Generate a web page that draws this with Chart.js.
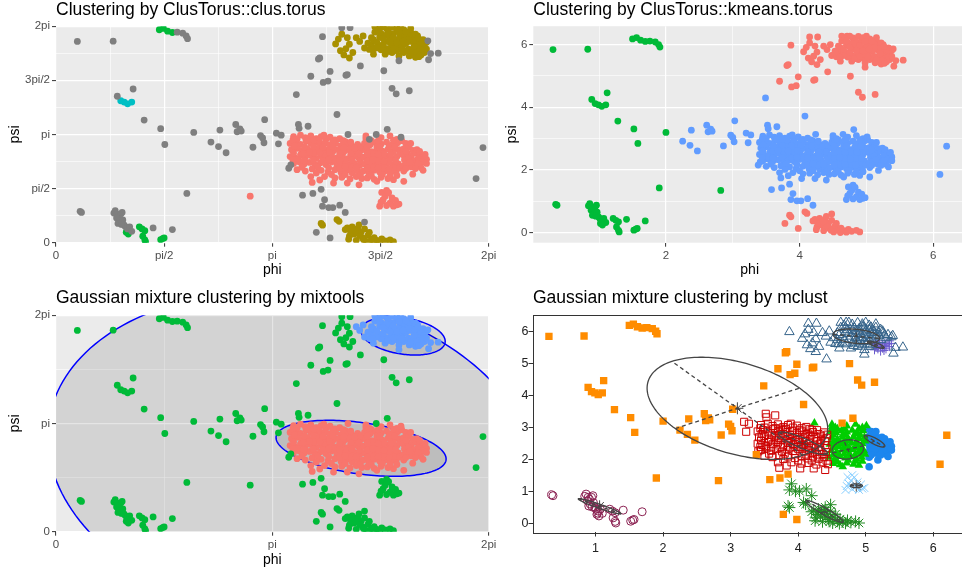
<!DOCTYPE html>
<html>
<head>
<meta charset="utf-8">
<script src="https://cdn.jsdelivr.net/npm/chart.js@4.4.1/dist/chart.umd.min.js"></script>
<style>
  html, body { margin: 0; padding: 0; overflow: hidden; background: #fff; }
  body { width: 962px; height: 570px; position: relative; }
  canvas { position: absolute; }
</style>
</head>
<body>
<canvas id="kmeans" width="480" height="285" style="left:490px;top:0;z-index:1"></canvas>
<canvas id="mclust" width="480" height="285" style="left:490px;top:285px;z-index:1"></canvas>
<canvas id="clus" width="505" height="285" style="left:0;top:0;z-index:2"></canvas>
<canvas id="mix" width="505" height="285" style="left:0;top:285px;z-index:2"></canvas>
<script>
// ---- data: (phi, psi) pairs, grouped by how the four methods label them ----
const farLeft = [[0.31,5.84],[0.83,5.85],[0.89,4.25],[1.12,4.46],[1.28,3.56],[1.52,3.31],[1.58,2.85],[2.00,3.20],[1.90,1.43]];
const cyanPts = [[0.94,4.12],[0.99,4.08],[1.04,4.03],[1.10,4.08]];
const topLeftG = [[1.50,6.18],[1.56,6.22],[1.62,6.14],[1.69,6.10]];
const topLeftK = [[1.76,6.11],[1.84,6.08],[1.89,6.00],[1.91,5.92]];
const lowLeftK = [[0.35,0.91],[0.37,0.88],[0.84,0.86],[0.86,0.93],[0.89,0.83],[0.91,0.77],[0.94,0.83],[0.96,0.88],
  [0.88,0.72],[0.92,0.62],[0.90,0.56],[0.97,0.66],[0.99,0.51],[1.01,0.46],[0.95,0.53],[1.04,0.40],[1.07,0.46],
  [1.10,0.33],[1.41,0.43],[1.69,0.38]];
const lowLeftG = [[1.02,0.30],[1.03,0.34],[1.05,0.25],[1.21,0.46],[1.25,0.40],[1.29,0.35],[1.26,0.19],[1.29,0.08],
  [1.30,0.03],[1.52,0.085],[1.55,0.12],[1.57,0.14]];
const loneA = [[2.82,1.35]];
const midK = [[2.25,2.92],[2.36,2.79],[2.38,3.27],[2.47,2.61],[2.61,3.43],[2.63,3.22],[2.67,3.30],[2.69,3.24],
  [2.86,2.77],[2.97,3.11],[3.00,3.04],[3.03,3.57],[3.02,2.90],[3.49,4.30],[4.08,3.72],[4.65,3.14],[4.81,3.29],
  [6.10,1.86],[6.20,2.76],[3.38,2.16],[3.58,1.38],[3.73,1.43],[3.85,1.55]];
const midR = [[3.20,3.18],[3.23,2.87],[3.27,3.12],[3.52,3.43],[3.53,3.32],[3.66,3.38],[3.41,2.26]];
const mainW = [
  [3.45,3.08],[3.55,3.12],[3.62,3.05],[3.70,3.10],[3.78,3.02],[3.85,3.08],[3.92,3.00],[3.98,3.06],[4.05,2.98],[4.12,3.02],[4.20,2.93],
  [3.40,2.88],[3.48,2.92],[3.55,2.85],[3.63,2.95],[3.70,2.88],[3.77,2.92],[3.84,2.86],[3.91,2.90],[3.98,2.84],[4.06,2.88],[4.14,2.82],[4.22,2.86],[4.30,2.80],[4.38,2.85],
  [3.42,2.70],[3.50,2.74],[3.57,2.66],[3.65,2.72],[3.72,2.68],[3.80,2.74],[3.87,2.66],[3.95,2.71],[4.02,2.65],[4.10,2.70],[4.18,2.64],[4.26,2.69],[4.34,2.62],[4.42,2.67],
  [3.40,2.50],[3.47,2.46],[3.55,2.55],[3.62,2.48],[3.70,2.53],[3.78,2.45],[3.85,2.52],[3.93,2.47],[4.00,2.54],[4.08,2.46],[4.16,2.51],[4.24,2.44],[4.32,2.50],[4.40,2.45],
  [3.45,2.30],[3.53,2.35],[3.60,2.28],[3.68,2.33],[3.76,2.26],[3.84,2.32],[3.92,2.27],[4.00,2.34],[4.08,2.26],[4.16,2.31],[4.25,2.25],[4.33,2.30],[4.41,2.24],
  [3.50,2.12],[3.62,2.08],[3.72,2.14],[3.85,2.10],[3.95,2.05],[4.05,2.12],[4.14,2.04],[4.22,2.10],[4.30,2.03],[4.38,2.08],
  [3.70,1.92],[3.90,1.92],[4.05,1.88],[4.15,1.90],[4.27,1.85],[4.36,1.92],[4.44,1.86],
  [3.72,1.75],[3.83,1.82],[4.03,1.73],[4.23,1.73],[4.40,1.68],
  [3.50,3.00],[3.66,2.98],[3.82,2.96],[3.60,2.60],[3.75,2.60],[3.90,2.58],[3.52,2.42],[3.88,2.38],[4.04,2.40],[4.20,2.37],[4.12,2.16],[4.28,2.16],
  [3.44,2.98],[3.74,2.97],[3.89,3.12],[4.02,2.93],[4.17,2.96],[4.28,2.92],
  [3.46,2.80],[3.61,2.78],[3.74,2.79],[3.88,2.77],[4.02,2.78],[4.18,2.76],[4.34,2.75],[4.43,2.78],
  [3.45,2.60],[3.68,2.62],[3.83,2.60],[3.97,2.62],[4.12,2.58],[4.28,2.57],[4.40,2.58],
  [3.44,2.40],[3.60,2.38],[3.74,2.40],[3.96,2.40],[4.12,2.38],[4.30,2.40],[4.42,2.36],
  [3.57,2.19],[3.80,2.19],[3.96,2.17],[4.20,2.20],[4.36,2.18],
  [3.78,2.02],[4.00,1.98],[4.20,1.98],[4.42,1.97]];
const mainM = [
  [4.50,3.02],[4.58,2.96],[4.72,3.05],[4.85,3.10],[4.95,3.00],
  [4.48,2.88],[4.56,2.84],[4.64,2.90],[4.72,2.86],[4.80,2.92],[4.88,2.84],[4.96,2.90],
  [4.50,2.68],[4.58,2.64],[4.66,2.70],[4.74,2.66],[4.82,2.71],[4.90,2.65],[4.98,2.70],
  [4.47,2.48],[4.55,2.44],[4.63,2.50],[4.71,2.46],[4.79,2.52],[4.87,2.45],[4.95,2.50],
  [4.49,2.28],[4.57,2.24],[4.65,2.30],[4.73,2.26],[4.81,2.31],[4.89,2.25],[4.97,2.29],
  [4.46,2.08],[4.54,2.04],[4.62,2.10],[4.70,2.05],[4.78,2.09],[4.86,2.03],[4.94,2.08],
  [4.52,1.88],[4.62,1.84],[4.72,1.90],[4.82,1.86],[4.90,1.83],
  [4.60,2.58],[4.76,2.58],[4.68,2.38],[4.84,2.38],[4.60,2.17],[4.76,2.17],[4.92,2.18],[4.55,1.98],[4.85,1.95],[4.66,2.78],[4.84,2.80],
  [4.53,2.95],[4.68,2.96],[4.90,2.97],[4.52,2.77],[4.70,2.77],[4.92,2.77],[4.52,2.57],[4.68,2.56],[4.86,2.56],[4.99,2.58],
  [4.52,2.37],[4.60,2.40],[4.76,2.36],[4.93,2.38],[4.52,2.16],[4.68,2.18],[4.84,2.15],[4.99,2.17],[4.58,1.94],[4.74,1.98],
  [4.95,1.95],[4.66,1.78],[4.50,3.10]];
const mainE = [[5.02,2.96],[5.08,2.88],[5.05,2.72],[5.12,2.78],[5.18,2.68],[5.04,2.55],[5.10,2.60],[5.16,2.52],[5.22,2.60],
  [5.28,2.55],[5.34,2.50],[5.38,2.42],[5.06,2.40],[5.12,2.44],[5.20,2.38],[5.26,2.45],[5.32,2.35],[5.38,2.30],[5.04,2.22],
  [5.10,2.28],[5.16,2.20],[5.22,2.26],[5.30,2.18],[5.05,2.08],[5.18,1.99],[5.33,2.10],[5.05,1.78],[5.24,2.70],[5.15,2.88],
  [5.08,2.65],[5.28,2.65],[5.14,2.34],[5.26,2.30],[5.08,2.15],[5.36,2.56],[5.22,2.15]];
const mainTopK = [[4.24,3.14],[4.55,3.00],[5.01,3.06]];
const tail = [[4.70,1.06],[4.73,1.46],[4.75,1.25],[4.78,1.35],[4.80,1.52],[4.83,1.45],[4.85,1.15],[4.88,1.30],[4.90,1.06],
  [4.93,1.23],[4.95,1.10],[4.98,1.12],[4.80,1.08],[4.72,1.18]];
const belowB = [[3.90,1.25],[3.87,1.06],[3.96,1.02],[4.02,1.02],[4.12,1.09],[4.20,0.88]];
const bottomC = [[3.87,0.51],[3.85,0.56],[4.11,0.62],[4.08,0.67],[4.23,0.43],[4.30,0.46],[4.38,0.41],[4.43,0.30],[4.33,0.25],
  [4.26,0.19],[4.45,0.14],[4.53,0.21],[4.58,0.09],[4.66,0.07],[4.73,0.11],[4.36,0.07],[4.51,0.03],[4.61,0.01],[4.70,0.02],
  [4.90,0.03],[4.28,0.30],[4.41,0.21],[4.55,0.30],[4.35,0.35],[4.48,0.40],[4.62,0.15],[4.78,0.05],[4.85,0.08],[4.20,0.38],
  [4.40,0.52],[4.25,0.10],[4.47,0.08]];
const bottomK = [[4.48,0.60]];
const lowK = [[3.78,0.30],[3.98,0.14]];
const topLeftPart = [[4.06,5.77],[4.10,5.91],[4.13,5.57],[4.21,5.63],[4.26,5.76],[4.31,5.52],[4.15,6.05],[4.23,5.95],[4.26,5.36],[4.18,5.45]];
const topMid = [[4.36,5.95],[4.41,5.84],[4.46,6.00],[4.48,5.65],[4.55,5.61],[4.58,5.73],[4.61,5.47],[4.63,6.27],[4.71,6.27],
  [4.80,6.21],[4.88,6.26],[4.95,6.16],[5.05,6.18],[5.15,6.11],[5.25,6.00],[5.33,5.89],[5.38,5.82],[4.63,6.11],[4.70,5.97],
  [4.78,5.84],[4.85,6.00],[4.93,5.89],[5.00,5.79],[5.08,5.95],[5.15,5.84],[5.23,5.73],[4.80,5.63],[4.88,5.52],[4.95,5.57],
  [5.03,5.68],[5.10,5.57],[4.98,5.42],[4.78,5.47],[4.53,5.79],[4.68,5.73],[4.61,5.89],[5.10,6.05],[5.00,6.00],[4.90,6.07],
  [5.05,5.52],[4.83,6.11],[4.75,6.27],[4.68,6.18],[4.73,6.05],[4.85,5.92],[4.92,5.75],[5.00,5.90],[5.05,6.05],[5.18,5.95],
  [5.22,6.05],[5.28,5.88],[4.95,6.22],[5.08,5.78],[4.88,5.68],[4.72,5.60],[5.15,6.22],[5.00,6.27],[4.58,5.95],[4.66,5.82],[5.30,5.79],
  [4.65,5.65],[4.75,5.75],[4.82,5.55],[4.90,5.62],[4.97,5.68],[5.02,5.60],[5.12,6.00],[5.20,5.85],[5.26,5.94],[4.70,6.12],
  [4.80,6.02],[4.90,5.97],[4.98,6.10],[5.08,6.12],[5.12,5.90],[4.85,5.80],[4.95,5.80],[5.04,5.85],[4.60,5.60],[4.75,5.92]];
const topSE = [[5.13,5.42],[5.18,5.52],[5.20,5.63],[5.25,5.47],[5.25,5.60],[5.30,5.63],[5.35,5.52],[5.35,5.70],[5.12,5.62],
  [5.22,5.38],[5.30,5.45],[5.16,5.58],[5.18,5.45],[5.28,5.55],[5.33,5.60],[5.22,5.52],[5.15,5.50],[5.27,5.40],[5.38,5.62],[5.20,5.70]];
const topOutA = [[3.70,4.83],[3.88,4.65],[3.95,4.69],[3.98,4.97],[4.21,4.86],[4.23,4.88],[3.81,5.33],[3.83,5.36],[4.76,4.99],
  [4.88,4.48],[4.94,4.32],[5.13,4.41]];
const topOutB = [[3.87,5.98],[4.15,6.24],[4.27,6.24],[4.42,5.13]];
const topOutC = [[5.41,5.31],[5.55,5.50],[5.44,5.49],[5.40,5.86],[4.98,5.28]];

// ellipses: centre, semi-axis u, semi-axis v (phi, psi units)
const mixEllipses = [
  [[3.425, 2.135], [3.414, 0.690], [-0.958, 4.740]],
  [[4.43, 2.42], [1.22, -0.19], [-0.19, 0.79]],
  [[5.04, 5.68], [0.61, -0.12], [-0.04, 0.54]]
];
const mcEllipses = [
  [[3.10, 3.60], [-0.97, 1.46], [0.92, 0.63]],
  [[4.07, 2.51], [0.355, -0.34], [0.08, 0.10]],
  [[4.735, 2.32], [0.225, 0.11], [-0.06, 0.28]],
  [[5.13, 2.58], [0.145, -0.18], [0.05, 0.05]],
  [[4.86, 5.84], [0.345, -0.065], [0.0, 0.22]],
  [[5.15, 5.58], [0.12, -0.105], [0.03, 0.04]],
  [[4.86, 1.19], [0.09, 0.0], [0.0, 0.06]],
  [[4.39, 0.39], [0.27, -0.335], [0.06, 0.05]],
  [[1.06, 0.55], [0.315, -0.235], [0.03, 0.045]]
];

// ticks
const TAU = 2 * Math.PI;
const piTicks = [0, 1, 2, 3, 4, 5, 6, 7, 8].map(k => k * Math.PI / 4);
const piTickLabels = ['0', '', 'pi/2', '', 'pi', '', '3pi/2', '', '2pi'];
const piTicksCoarse = [0, 1, 2, 3, 4].map(k => k * Math.PI / 2);
const piTickLabelsCoarse = ['0', '', 'pi', '', '2pi'];
const kmXTicks = [1, 2, 3, 4, 5, 6];
const kmXTickLabels = ['', '2', '', '4', '', '6'];
const kmYTicks = [0, 1, 2, 3, 4, 5, 6];
const kmYTickLabels = ['0', '', '2', '', '4', '', '6'];
const mcXTicks = [1, 2, 3, 4, 5, 6];
const mcYTicks = [0, 1, 2, 3, 4, 5, 6];

const FONT = '"Liberation Sans", Arial, Helvetica, sans-serif';
Chart.defaults.font.family = FONT;

const GG_RED = '#F8766D', GG_OLIVE = '#A89000', GG_GREEN = '#00BA38', GG_CYAN = '#00BFC4',
      GG_BLUE = '#619CFF', GG_GRAY = '#7F7F7F';

// helpers
function ds(groups, style) {
  const data = [].concat(...groups).map(([x, y]) => ({ x, y }));
  return Object.assign({ data, clip: 0 }, style);
}
const dot = color => ({ pointStyle: 'circle', pointRadius: 3.4, pointBackgroundColor: color, pointBorderWidth: 0 });
const sym = (style, color, r, filled) => ({
  pointStyle: style, pointRadius: r,
  pointBackgroundColor: filled ? color : 'rgba(0,0,0,0)',
  pointBorderColor: color, pointBorderWidth: filled ? 0 : 1
});

function ggAxis(pos, min, max, ticks, labels, title, titlePad, size) {
  return {
    type: 'linear', position: pos, min, max,
    afterBuildTicks: s => { s.ticks = ticks.map(v => ({ value: v })); },
    afterFit: s => { if (pos === 'left') s.width = size; else s.height = size; },
    ticks: { autoSkip: false, maxRotation: 0, padding: 2, color: '#4d4d4d', font: { size: 11.5 },
             callback: (v, i) => labels[i] },
    grid: {
      color: '#ffffff',
      lineWidth: c => labels[c.index] === '' ? 0.6 : 1.2,
      tickLength: 4, tickWidth: 1,
      tickColor: c => labels[c.index] === '' ? 'rgba(0,0,0,0)' : '#333333'
    },
    border: { display: false },
    title: { display: true, text: title, color: '#000', font: { size: 14 }, padding: titlePad }
  };
}

function titleOpts(text, top, bottom) {
  return { display: true, text, align: 'start', fullSize: false, color: '#000',
           font: { size: 17.5, weight: 'normal' }, padding: { top, bottom } };
}

const panelBg = {
  id: 'panelBg',
  beforeDraw(chart, args, opts) {
    const { ctx, chartArea: a } = chart;
    ctx.save();
    ctx.fillStyle = opts.color || '#EBEBEB';
    ctx.fillRect(a.left, a.top, a.width, a.height);
    ctx.restore();
  }
};

function tracePath(chart, e) {
  const [c, u, v] = e;
  const sx = chart.scales.x, sy = chart.scales.y, ctx = chart.ctx;
  ctx.beginPath();
  for (let k = 0; k <= 180; k++) {
    const t = k / 180 * TAU;
    const px = sx.getPixelForValue(c[0] + u[0] * Math.cos(t) + v[0] * Math.sin(t));
    const py = sy.getPixelForValue(c[1] + u[1] * Math.cos(t) + v[1] * Math.sin(t));
    if (k) ctx.lineTo(px, py); else ctx.moveTo(px, py);
  }
  ctx.closePath();
}

const mixShapes = {
  id: 'mixShapes',
  beforeDatasetsDraw(chart) {
    const { ctx, chartArea: a } = chart;
    ctx.save();
    ctx.beginPath(); ctx.rect(a.left, a.top, a.width, a.height); ctx.clip();
    mixEllipses.forEach(e => {
      tracePath(chart, e);
      ctx.fillStyle = 'rgba(0,0,0,0.1)'; ctx.fill();
      ctx.strokeStyle = '#0000FF'; ctx.lineWidth = 1.5; ctx.stroke();
    });
    ctx.restore();
  }
};

const mcShapes = {
  id: 'mcShapes',
  afterDatasetsDraw(chart) {
    const { ctx, chartArea: a } = chart;
    const sx = chart.scales.x, sy = chart.scales.y;
    ctx.save();
    ctx.beginPath(); ctx.rect(a.left, a.top, a.width, a.height); ctx.clip();
    ctx.strokeStyle = '#454545'; ctx.lineWidth = 1.3;
    mcEllipses.forEach(e => {
      ctx.setLineDash([]);
      tracePath(chart, e); ctx.stroke();
      const [c, u, v] = e;
      ctx.setLineDash([4, 3]);
      [u, v].forEach(w => {
        ctx.beginPath();
        ctx.moveTo(sx.getPixelForValue(c[0] - w[0]), sy.getPixelForValue(c[1] - w[1]));
        ctx.lineTo(sx.getPixelForValue(c[0] + w[0]), sy.getPixelForValue(c[1] + w[1]));
        ctx.stroke();
      });
    });
    ctx.restore();
  },
  afterDraw(chart) {
    const { ctx, chartArea: a } = chart;
    ctx.save();
    ctx.strokeStyle = '#333'; ctx.lineWidth = 1;
    ctx.strokeRect(Math.round(a.left) + 0.5, Math.round(a.top) + 0.5, a.width, Math.round(a.height));
    ctx.restore();
  }
};

const base = { responsive: false, animation: false, devicePixelRatio: 1, events: [] };

// ---- panel 1: clus.torus ----
new Chart(document.getElementById('clus'), {
  type: 'scatter',
  data: { datasets: [
    ds([farLeft, topLeftK, lowLeftK, midK, midR, lowK, bottomK, topOutA, topOutB, topOutC, belowB, mainTopK], dot(GG_GRAY)),
    ds([mainW, mainM, mainE, tail, loneA], dot(GG_RED)),
    ds([topLeftPart, topMid, topSE, bottomC], dot(GG_OLIVE)),
    ds([topLeftG, lowLeftG], dot(GG_GREEN)),
    ds([cyanPts], dot(GG_CYAN))
  ] },
  options: Object.assign({}, base, {
    layout: { padding: { left: 0, right: 16.3, top: 0, bottom: 0 } },
    plugins: { legend: { display: false }, tooltip: { enabled: false },
               title: titleOpts('Clustering by ClusTorus::clus.torus', 0, 5.2) },
    scales: {
      x: ggAxis('bottom', 0, TAU, piTicks, piTickLabels, 'phi', { top: 0, bottom: 6.6 }, 42.3),
      y: ggAxis('left', 0, TAU, piTicks, piTickLabels, 'psi', { top: 6.3, bottom: 0 }, 56)
    }
  }),
  plugins: [panelBg]
});

// ---- panel 2: kmeans.torus ----
new Chart(document.getElementById('kmeans'), {
  type: 'scatter',
  data: { datasets: [
    ds([lowK, bottomK, topOutA, topOutB, topOutC, topLeftPart, topMid, topSE, bottomC], dot(GG_RED)),
    ds([farLeft, cyanPts, topLeftG, topLeftK, lowLeftK, lowLeftG, loneA], dot(GG_GREEN)),
    ds([midK, midR, mainW, mainM, mainE, mainTopK, belowB, tail], dot(GG_BLUE))
  ] },
  options: Object.assign({}, base, {
    layout: { padding: { left: 0, right: 4, top: 0, bottom: 0 } },
    plugins: { legend: { display: false }, tooltip: { enabled: false },
               title: titleOpts('Clustering by ClusTorus::kmeans.torus', 0, 5.2) },
    scales: {
      x: ggAxis('bottom', 0.015, 6.49, kmXTicks, kmXTickLabels, 'phi', { top: 0, bottom: 6.6 }, 42.3),
      y: ggAxis('left', -0.314, 6.584, kmYTicks, kmYTickLabels, 'psi', { top: 14.1, bottom: 0 }, 43.3)
    }
  }),
  plugins: [panelBg]
});

// ---- panel 3: mixtools ----
new Chart(document.getElementById('mix'), {
  type: 'scatter',
  data: { datasets: [
    ds([farLeft, cyanPts, topLeftG, topLeftK, lowLeftK, lowLeftG, loneA, midK, midR, lowK, bottomK,
        topOutA, topOutB, topLeftPart, bottomC, belowB, tail], dot(GG_GREEN)),
    ds([mainW, mainM, mainE, mainTopK], dot(GG_RED)),
    ds([topMid, topSE, topOutC], dot(GG_BLUE))
  ] },
  options: Object.assign({}, base, {
    layout: { padding: { left: 0, right: 16.3, top: 0, bottom: 0 } },
    plugins: { legend: { display: false }, tooltip: { enabled: false },
               title: titleOpts('Gaussian mixture clustering by mixtools', 3, 6.2) },
    scales: {
      x: ggAxis('bottom', 0, TAU, piTicksCoarse, piTickLabelsCoarse, 'phi', { top: 0, bottom: 1.6 }, 38.3),
      y: ggAxis('left', 0, TAU, piTicksCoarse, piTickLabelsCoarse, 'psi', { top: 6.3, bottom: 0 }, 56)
    }
  }),
  plugins: [panelBg, mixShapes]
});

// ---- panel 4: mclust ----
function mcAxis(pos, min, max, ticks, size, pad) {
  return {
    type: 'linear', position: pos, min, max,
    afterBuildTicks: s => { s.ticks = ticks.map(v => ({ value: v })); },
    afterFit: s => { if (pos === 'left') s.width = size; else s.height = size; },
    ticks: { autoSkip: false, maxRotation: 0, padding: pad, color: '#222', font: { size: 12.5 },
             callback: v => String(v) },
    grid: { drawOnChartArea: false, drawTicks: true, tickLength: 4.5, tickColor: '#333', tickWidth: 1 },
    border: { display: false },
    title: { display: false }
  };
}
new Chart(document.getElementById('mclust'), {
  type: 'scatter',
  data: { datasets: [
    ds([farLeft, cyanPts, topLeftG, topLeftK, loneA, midK, lowK, topOutA], sym('rect', '#FF8C00', 5.2, true)),
    ds([mainW, midR], sym('rect', '#CD0000', 5, false)),
    ds([mainM, mainTopK], sym('triangle', '#00CD00', 5, true)),
    ds([mainE], sym('circle', '#1C86EE', 3.8, true)),
    ds([topOutB, topOutC, topLeftPart, topMid], sym('triangle', '#36648B', 5.5, false)),
    ds([topSE], sym('cross', '#6A5ACD', 4.5, false)),
    ds([tail], sym('crossRot', '#87CEFF', 5.5, false)),
    ds([lowLeftK, lowLeftG], sym('circle', '#8B2252', 4, false)),
    ds([belowB, bottomC, bottomK], sym('star', '#228B22', 6, false)),
    ds([mcEllipses.map(e => e[0])], sym('star', '#444444', 6, false))
  ] },
  options: Object.assign({}, base, {
    layout: { padding: { left: 0, right: 4, top: 0, bottom: 0 } },
    plugins: { legend: { display: false }, tooltip: { enabled: false },
               title: titleOpts('Gaussian mixture clustering by mclust', 3, 5.5) },
    scales: {
      x: mcAxis('bottom', 0.074, 6.44, mcXTicks, 38, 4.3),
      y: mcAxis('left', -0.25, 6.52, mcYTicks, 43, 0)
    }
  }),
  plugins: [mcShapes]
});
</script>
</body>
</html>
